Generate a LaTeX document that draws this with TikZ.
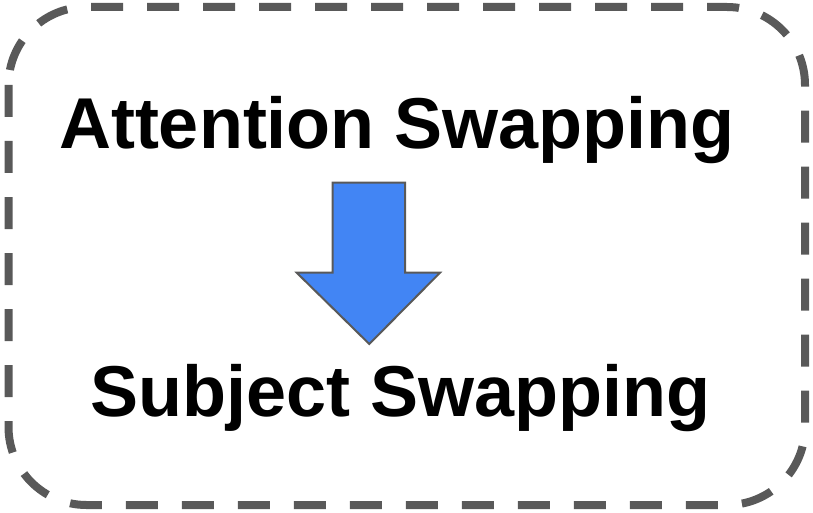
\documentclass[tikz,border=0pt]{standalone}
\usepackage{fontspec}
\setmainfont{Liberation Sans}
\definecolor{bordergray}{HTML}{595959}
\definecolor{arrowblue}{HTML}{4285F4}
\tikzset{
  frame/.style={draw=bordergray, line width=8pt, dash pattern=on 32pt off 24pt, rounded corners=78pt},
  label/.style={inner sep=0pt, anchor=base, font=\fontsize{72}{80}\selectfont\bfseries},
  bigarrow/.style={fill=arrowblue, draw=bordergray, line width=2pt, line join=miter}
}
\begin{document}
\begin{tikzpicture}[x=1pt,y=-1pt]
\useasboundingbox (0,0) rectangle (813,513);
\draw[frame] (8.5,7) rectangle (805,505);
\node[label] (att) at (397,148.3) {Attention Swapping};
\node[label] (sub) at (400.5,416.5) {Subject Swapping};
\draw[bigarrow] (332.7,182.7) -- (405,182.7) -- (405,272.7) -- (440,272.7) -- (369.3,344) -- (296.7,272.7) -- (332.7,272.7) -- cycle;
\end{tikzpicture}
\end{document}
